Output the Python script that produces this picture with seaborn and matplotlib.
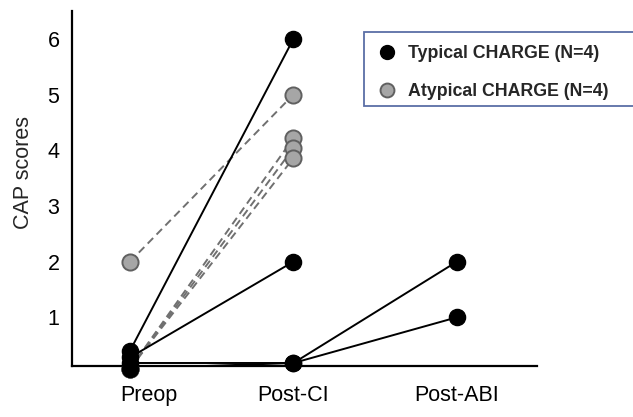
import numpy as np
import pandas as pd
import matplotlib
matplotlib.use("Agg")
import matplotlib.pyplot as plt
import matplotlib.transforms as mtransforms
from matplotlib.lines import Line2D
from matplotlib.patches import Rectangle
import seaborn as sns

# ---- data ----
stages = ["Preop", "Post-CI", "Post-ABI"]
typical_ids = ["T1", "T2", "T3", "T4"]
typical_preop = [0.40, 0.28, 0.18, 0.08]
typical_postci = [6.0, 2.0, 0.18, 0.18]
typical_postabi = [np.nan, np.nan, 2.0, 1.0]
atypical_ids = ["A1", "A2", "A3", "A4"]
atypical_preop = [2.0, 0.08, 0.08, 0.08]
atypical_postci = [5.0, 4.22, 4.04, 3.86]
legend_labels = ["Typical CHARGE (N=4)", "Atypical CHARGE (N=4)"]
yticks = [1, 2, 3, 4, 5, 6]

rows = []
for i, sid in enumerate(typical_ids):
    for s, v in zip(stages, [typical_preop[i], typical_postci[i], typical_postabi[i]]):
        if not np.isnan(v):
            rows.append(dict(id=sid, group="Typical", stage=s, x=stages.index(s), score=v))
for i, sid in enumerate(atypical_ids):
    for s, v in zip(stages[:2], [atypical_preop[i], atypical_postci[i]]):
        rows.append(dict(id=sid, group="Atypical", stage=s, x=stages.index(s), score=v))
df = pd.DataFrame(rows)

sns.set_style("white")
plt.rcParams["font.family"] = ["Liberation Sans", "DejaVu Sans"]

fig = plt.figure(figsize=(6.33, 4.17), dpi=100)
ax = fig.add_axes([72/633, (417-366)/417, (537-72)/633, (366-11)/417])

gray_fill = "#a6a6a6"
gray_edge = "#606060"
dash_col = "#707070"

# lines
sns.lineplot(data=df[df.group == "Atypical"], x="x", y="score", units="id",
             estimator=None, color=dash_col, lw=1.4, ax=ax, legend=False,
             dashes=False, sort=False)
for l in ax.lines:
    l.set_linestyle((0, (4, 2.5)))
sns.lineplot(data=df[df.group == "Typical"], x="x", y="score", units="id",
             estimator=None, color="black", lw=1.4, ax=ax, legend=False, sort=False)

# points
sns.scatterplot(data=df[df.group == "Atypical"], x="x", y="score", s=135,
                color=gray_fill, edgecolor=gray_edge, linewidth=1.4, ax=ax,
                legend=False, clip_on=False, zorder=3)
sns.scatterplot(data=df[df.group == "Typical"], x="x", y="score", s=135,
                color="black", edgecolor="black", linewidth=1, ax=ax,
                legend=False, clip_on=False, zorder=4)

ax.set_xlim(-0.355, 2.49)
ax.set_ylim(0.126, 6.5)
ax.set_yticks(yticks)
ax.set_yticklabels([str(t) for t in yticks])
ax.set_xticks([0, 1, 2])
ax.set_xticklabels(stages)
ax.set_xlabel("")
ax.set_ylabel("CAP scores", fontsize=15.5)
ax.yaxis.set_label_coords(-0.081, 0.545)

for sp in ["top", "right"]:
    ax.spines[sp].set_visible(False)
for sp in ["left", "bottom"]:
    ax.spines[sp].set_color("black")
    ax.spines[sp].set_linewidth(1.6)

ax.tick_params(axis="y", direction="in", length=5, width=1.3, labelsize=15.5, pad=9, colors="black")
ax.tick_params(axis="x", length=0, labelsize=15.5, pad=14, colors="black")
lbl0 = ax.get_xticklabels()[0]
lbl0.set_transform(lbl0.get_transform() + mtransforms.ScaledTranslation(0.19, 0, fig.dpi_scale_trans))

# legend frame (extends past the right edge, as in the reference)
fig.patches.append(Rectangle((364/633, 1 - 106/417), 300/633, 74/417,
                             transform=fig.transFigure, fill=True, facecolor="white",
                             edgecolor="#5b6ea6", linewidth=1.3, zorder=5))

handles = [
    Line2D([], [], marker="o", ls="", markersize=10, markerfacecolor="black", markeredgecolor="black"),
    Line2D([], [], marker="o", ls="", markersize=10, markerfacecolor=gray_fill, markeredgecolor=gray_edge, markeredgewidth=1.4),
]
leg = fig.legend(handles, legend_labels, loc="center left",
                 bbox_to_anchor=(364/633, 1 - 72.5/417), bbox_transform=fig.transFigure,
                 frameon=False, borderaxespad=0, borderpad=0.7,
                 handletextpad=0.6, handlelength=1.2, labelspacing=1.15,
                 prop=dict(size=12.8, weight="bold"))
leg.set_zorder(6)

fig.savefig("out.png", dpi=100)
